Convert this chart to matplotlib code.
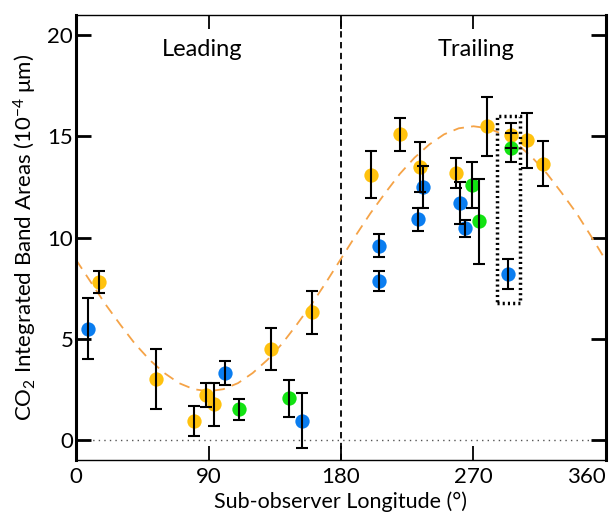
import numpy as np
import matplotlib
matplotlib.use('agg')
import matplotlib.pyplot as plt
from matplotlib.patches import Rectangle

plt.rcParams['font.family'] = ['Lato', 'DejaVu Sans']
plt.rcParams['mathtext.fontset'] = 'custom'
plt.rcParams['mathtext.rm'] = 'Lato'
plt.rcParams['mathtext.it'] = 'Lato:italic'
plt.rcParams['mathtext.default'] = 'regular'
plt.rcParams['font.size'] = 16

# yellow points (lon, area, err)
yel_lon = [15.8, 54.3, 80.4, 88.3, 93.9, 132.7, 160.5, 200.2, 219.9, 233.9,
           258.3, 279.0, 295.5, 306.1, 317.4]
yel_val = [7.8, 3.0, 0.93, 2.2, 1.75, 4.5, 6.3, 13.1, 15.1, 13.5,
           13.2, 15.5, 15.05, 14.8, 13.65]
yel_err = [0.55, 1.5, 0.76, 0.6, 1.06, 1.03, 1.06, 1.16, 0.8, 1.24,
           0.75, 1.45, 0.63, 1.37, 1.12]

# blue points
blu_lon = [7.9, 101.0, 153.3, 205.8, 205.8, 232.1, 235.9, 261.0, 264.4, 293.4]
blu_val = [5.5, 3.3, 0.95, 9.6, 7.85, 10.9, 12.5, 11.7, 10.45, 8.2]
blu_err = [1.5, 0.6, 1.35, 0.58, 0.47, 0.58, 1.05, 1.02, 0.42, 0.76]

# green points
grn_lon = [110.9, 144.9, 269.2, 273.9, 295.5]
grn_val = [1.5, 2.05, 12.6, 10.8, 14.45]
grn_err = [0.53, 0.93, 1.14, 2.1, 0.7]

# dashed fit curve, read every 10 deg
fit_lon = list(range(0, 361, 10))
fit_val = [8.9, 7.8, 6.7, 5.7, 4.75, 3.95, 3.3, 2.8, 2.5, 2.4, 2.5, 2.8, 3.3,
           3.95, 4.75, 5.7, 6.7, 7.8, 8.95, 10.1, 11.2, 12.2, 13.15, 13.95,
           14.6, 15.1, 15.4, 15.5, 15.4, 15.1, 14.6, 13.95, 13.15, 12.2,
           11.2, 10.05, 8.85]

xticks = [0, 90, 180, 270, 360]
yticks = [0, 5, 10, 15, 20]

fig = plt.figure(figsize=(6.11, 5.16), dpi=100)
ax = fig.add_axes([0.1244, 0.1085, 0.8674, 0.8624])

ax.plot(fit_lon, fit_val, color='#F5A347', lw=1.3, dashes=(6, 4), zorder=2)
ax.axvline(180, color='black', lw=1.3, dashes=(3.5, 2.5), zorder=1)
ax.axhline(0, color='#555555', lw=1.0, dashes=(1, 3), zorder=1)

ms = 10.3
ax.plot(yel_lon, yel_val, 'o', color='#FFC20E', ms=ms, mec='none', zorder=3)
ax.plot(blu_lon, blu_val, 'o', color='#0A7DF0', ms=ms, mec='none', zorder=3)
ax.plot(grn_lon, grn_val, 'o', color='#12E312', ms=ms, mec='none', zorder=3)
for lon, val, err in [(yel_lon, yel_val, yel_err), (blu_lon, blu_val, blu_err),
                      (grn_lon, grn_val, grn_err)]:
    ax.errorbar(lon, val, yerr=err, fmt='none', ecolor='black', elinewidth=1.5,
                capsize=4, capthick=1.5, zorder=4)

ax.add_patch(Rectangle((285.9, 6.75), 15.7, 9.25, fill=False, ec='black',
                       lw=2.5, ls=(0, (0.6, 0.9)), zorder=5))

ax.text(86, 19.3, 'Leading', ha='center', va='center', fontsize=17)
ax.text(271.5, 19.3, 'Trailing', ha='center', va='center', fontsize=17)

ax.set_xlim(0, 360)
ax.set_ylim(-1, 21)
ax.set_xticks(xticks)
ax.set_yticks(yticks)
ax.tick_params(axis='y', direction='in', length=11, width=2, left=True,
               right=True, pad=2, labelsize=16)
ax.tick_params(axis='x', direction='in', length=10, width=1.3, top=True,
               bottom=True, pad=5, labelsize=16)
ax.get_xticklabels()[-1].set_ha('right')
ax.get_xticklabels()[-1].set_x(362)
for side in ['left', 'right']:
    ax.spines[side].set_linewidth(2.2)
for side in ['top', 'bottom']:
    ax.spines[side].set_linewidth(1.0)

ax.set_xlabel('Sub-observer Longitude (°)', fontsize=15.5, labelpad=3)
ax.set_ylabel(r'CO$_2$ Integrated Band Areas (10$^{-4}$ μm)', fontsize=16,
              labelpad=6)

plt.savefig('out.png', dpi=100)
